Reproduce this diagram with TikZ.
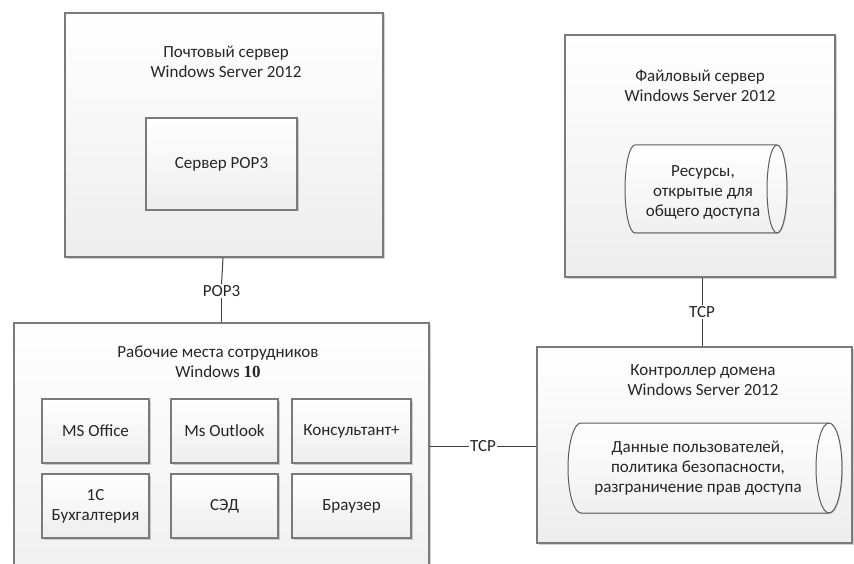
\documentclass[tikz,border=0pt]{standalone}
\usepackage{fontspec}
\setmainfont{Carlito}
\newfontfamily\digitfont{Liberation Serif}
\usetikzlibrary{shadows}
\definecolor{txt}{HTML}{262626}
\definecolor{edge}{HTML}{7A7A7A}
\definecolor{wire}{HTML}{404040}
\newcommand\drawcyl[5]{%
  \pgfmathsetmacro\cylry{(#4-#3)/2}%
  \path[cylshape] (#1,#3) -- (#2,#3) arc[start angle=90, end angle=-90, x radius=#5pt, y radius=\cylry pt] -- (#1,#4) arc[start angle=270, end angle=90, x radius=#5pt, y radius=\cylry pt] -- cycle;
  \draw[cylline] (#2,#3) arc[start angle=90, end angle=270, x radius=#5pt, y radius=\cylry pt];
}
\begin{document}
\begin{tikzpicture}[x=1pt,y=-1pt,
  every node/.style={font=\fontsize{17}{20}\selectfont, text=txt},
  box/.style={draw=edge, line width=1.3pt, top color=white, bottom color=black!7,
    drop shadow={shadow xshift=1.5pt, shadow yshift=-1.5pt, fill=black, opacity=0.18},
    inner sep=0pt, align=center},
  lbl/.style={fill=white, inner sep=1pt},
  wirestyle/.style={draw=wire, line width=1pt},
  ttl/.style={align=center},
  cylshape/.style={draw=wire!85, line width=1pt, top color=white, bottom color=black!6,
    drop shadow={shadow xshift=1pt, shadow yshift=-1pt, fill=black, opacity=0.15}},
  cylline/.style={draw=wire!85, line width=1pt}
]
\useasboundingbox (0,0) rectangle (854,564);
\clip (0,0) rectangle (854,564);

% outer boxes
\node[box, minimum width=318pt, minimum height=244pt] (mail) at (224,135) {};
\node[box, minimum width=270pt, minimum height=242pt] (file) at (700,156) {};
\node[box, minimum width=415pt, minimum height=300pt] (work) at (221.5,473) {};
\node[box, minimum width=315pt, minimum height=196pt] (dc) at (694.5,445) {};

% titles
\node[ttl] (mailttl) at (226,62) {Почтовый сервер\\Windows Server 2012};
\node[ttl] (filettl) at (700,86) {Файловый сервер\\Windows Server 2012};
\node[ttl] (workttl) at (218,362) {Рабочие места сотрудников\\Windows {\digitfont\bfseries 10}};
\node[ttl] (dcttl) at (703,380) {Контроллер домена\\Windows Server 2012};

% inner boxes
\node[box, minimum width=151pt, minimum height=92pt] (pop3srv) at (221.5,164) {Сервер POP3};
\node[box, minimum width=107pt, minimum height=64pt] (msoffice) at (95.5,431) {MS Office};
\node[box, minimum width=107pt, minimum height=64pt] (outlook) at (224.5,431) {Ms Outlook};
\node[box, minimum width=119pt, minimum height=64pt] (konsult) at (351.5,431) {Консультант+};
\node[box, minimum width=107pt, minimum height=64pt] (buh) at (95.5,506) {1С\\Бухгалтерия};
\node[box, minimum width=107pt, minimum height=64pt] (sed) at (224.5,506) {СЭД};
\node[box, minimum width=119pt, minimum height=64pt] (browser) at (351.5,506) {Браузер};

% cylinders
\drawcyl{635}{777}{145}{233}{10}
\node[ttl] (res) at (703,192) {Ресурсы,\\открытые для\\общего доступа};
\drawcyl{581}{829}{423}{513}{13}
\node[ttl] (data) at (698,468) {Данные пользователей,\\политика безопасности,\\разграничение прав доступа};

% connectors
\node[lbl] (poplbl) at (221.5,291) {POP3};
\draw[wirestyle] ([xshift=-1pt]mail.south) -- (poplbl.north);
\draw[wirestyle] (poplbl.south) -- (poplbl.south |- work.north);

\node[lbl] (tcpv) at (702,312) {TCP};
\draw[wirestyle] (tcpv.north |- file.south) -- (tcpv.north);
\draw[wirestyle] (tcpv.south) -- (tcpv.south |- dc.north);

\node[lbl] (tcph) at (483,446) {TCP};
\draw[wirestyle] (work.east |- tcph) -- (tcph.west);
\draw[wirestyle] (tcph.east) -- (dc.west |- tcph);
\end{tikzpicture}
\end{document}
